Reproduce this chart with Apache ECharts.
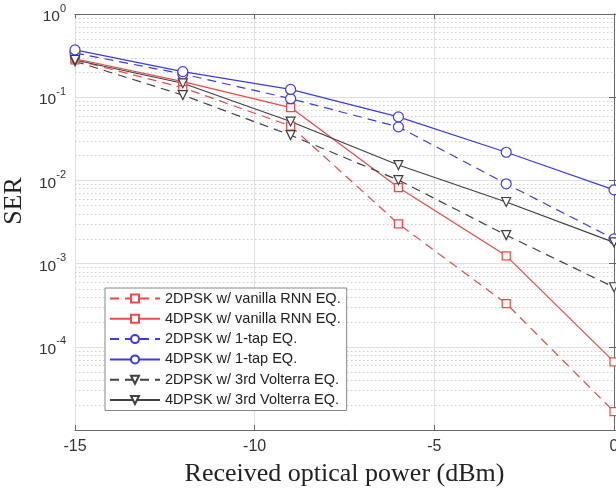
<!DOCTYPE html>
<html><head><meta charset="utf-8">
<script src="https://cdn.jsdelivr.net/npm/echarts@6/dist/echarts.min.js"></script>
<style>html,body{margin:0;padding:0;background:#fff}#c{width:616px;height:493px}</style>
</head><body><div id="c"></div>
<script>
var xValues = [-15, -12, -9, -6, -3, 0];
var rnn2 = [0.28, 0.13, 0.045, 0.0030, 0.00033, 0.0000166];
var rnn4 = [0.29, 0.154, 0.075, 0.0082, 0.00124, 0.000066];
var tap2 = [0.34, 0.19, 0.096, 0.044, 0.0091, 0.00198];
var tap4 = [0.37, 0.203, 0.124, 0.058, 0.0218, 0.0077];
var vol2 = [0.27, 0.106, 0.035, 0.0101, 0.0022, 0.00052];
var vol4 = [0.28, 0.147, 0.051, 0.0153, 0.0055, 0.0018];
var names = ['2DPSK w/ vanilla RNN EQ.', '4DPSK w/ vanilla RNN EQ.', '2DPSK w/ 1-tap EQ.', '4DPSK w/ 1-tap EQ.', '2DPSK w/ 3rd Volterra EQ.', '4DPSK w/ 3rd Volterra EQ.'];
var xTicks = [-15, -10, -5, 0];

var RED = '#f04848', BLUE = '#3c3ce6', BLACK = '#404040';
function pairs(arr){ return xValues.map(function(x,i){ return [x, arr[i]]; }); }
function mk(name, arr, color, dashed, symbol, rot){
  return {
    name: name, type: 'line', data: pairs(arr),
    symbol: symbol, symbolSize: symbol==='circle' ? 10 : (symbol==='rect' ? 8 : 9), symbolRotate: rot || 0,
    lineStyle: {color: color, width: 1.2, type: dashed ? [9, 6] : 'solid'},
    itemStyle: {color: '#fff', borderColor: color, borderWidth: 1.2},
    z: 5
  };
}
// minor log grid values (2..9 x each decade)
var minorVals = [];
for (var e = -5; e < 0; e++) for (var m = 2; m <= 9; m++) minorVals.push([m * Math.pow(10, e)]);

var series = [
  {
    type: 'custom', silent: true, z: 1, data: minorVals,
    encode: {y: 0},
    renderItem: function(params, api){
      var v = api.value(0);
      var p0 = api.coord([xTicks[0], v]);
      var p1 = api.coord([xTicks[xTicks.length-1], v]);
      var y = Math.round(p0[1]) + 0.5;
      return {type: 'line', shape: {x1: p0[0], y1: y, x2: p1[0], y2: y},
        style: {stroke: '#cfcfcf', lineWidth: 1, lineDash: [1.5, 2.5]}};
    }
  },
  mk(names[0], rnn2, RED, true, 'rect'),
  mk(names[1], rnn4, RED, false, 'rect'),
  mk(names[2], tap2, BLUE, true, 'circle'),
  mk(names[3], tap4, BLUE, false, 'circle'),
  mk(names[4], vol2, BLACK, true, 'triangle', 180),
  mk(names[5], vol4, BLACK, false, 'triangle', 180)
];

var chart = echarts.init(document.getElementById('c'));
chart.setOption({
  animation: false,
  grid: {left: 75, right: 2, top: 14, bottom: 63, outerBoundsMode: 'none', containLabel: false},
  legend: {
    data: names, orient: 'vertical', left: 105, top: 288,
    backgroundColor: '#fff', borderColor: '#888', borderWidth: 1,
    padding: [3, 6, 3, 4], itemGap: 5.3, itemWidth: 50, itemHeight: 10,
    textStyle: {fontFamily: 'Liberation Sans, Arial', fontSize: 14.5, lineHeight: 15, color: '#222'}
  },
  xAxis: [{
    type: 'value', min: -15, max: 0, interval: 5,
    name: 'Received optical power (dBm)', nameLocation: 'middle', nameGap: 31, nameMoveOverlap: false,
    nameTextStyle: {fontFamily: 'Liberation Serif, Times New Roman', fontSize: 26, color: '#222'},
    axisLine: {lineStyle: {color: '#666', width: 1}},
    axisTick: {inside: true, length: 5, lineStyle: {color: '#666'}},
    axisLabel: {fontFamily: 'Liberation Sans, Arial', fontSize: 16, color: '#333', margin: 9},
    splitLine: {show: true, lineStyle: {color: '#e0e0e0', width: 1}}
  }, {
    type: 'value', min: -15, max: 0, interval: 5, position: 'top',
    axisLine: {lineStyle: {color: '#666'}},
    axisTick: {inside: true, length: 5, lineStyle: {color: '#666'}},
    axisLabel: {show: false}, splitLine: {show: false}
  }],
  yAxis: [{
    type: 'log', logBase: 10, min: 1e-5, max: 1,
    name: 'SER', nameLocation: 'middle', nameGap: 48, nameMoveOverlap: false,
    nameTextStyle: {fontFamily: 'Liberation Serif, Times New Roman', fontSize: 26, color: '#222', padding: [0, 0, 0, 42]},
    axisLine: {show: true, lineStyle: {color: '#666', width: 1}},
    axisTick: {inside: true, length: 5, lineStyle: {color: '#666'}},
    splitLine: {show: true, lineStyle: {color: '#e0e0e0', width: 1}},
    axisLabel: {
      margin: 9,
      formatter: function(v){
        var ex = Math.round(Math.log10(v));
        if (ex === -5) return '';
        return '{b|10}{s|' + ex + '}';
      },
      rich: {
        b: {fontFamily: 'Liberation Sans, Arial', fontSize: 15.5, color: '#333', padding: [6,0,0,0]},
        s: {fontFamily: 'Liberation Sans, Arial', fontSize: 11, color: '#333', verticalAlign: 'top', padding: [0,0,8,0]}
      }
    }
  }, {
    type: 'log', logBase: 10, min: 1e-5, max: 1, position: 'right',
    axisLine: {show: true, lineStyle: {color: '#666'}},
    axisTick: {inside: true, length: 5, lineStyle: {color: '#666'}},
    axisLabel: {show: false}, splitLine: {show: false}
  }],
  series: series
});
</script></body></html>
